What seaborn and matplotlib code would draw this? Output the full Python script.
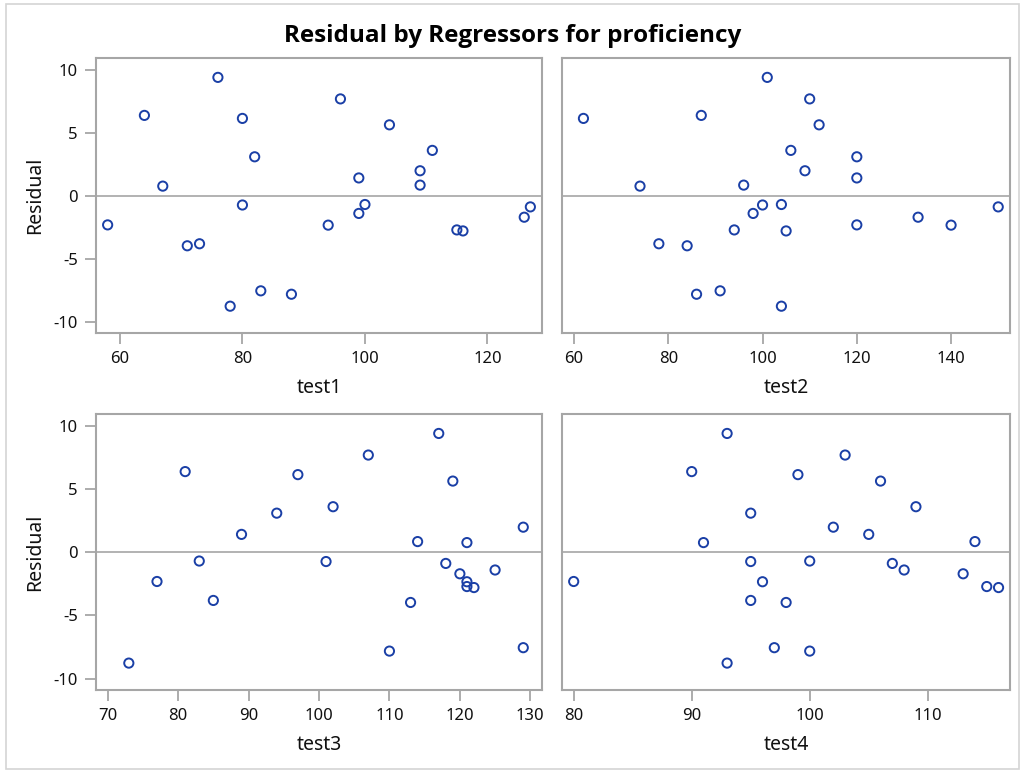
import matplotlib
matplotlib.use("Agg")
import matplotlib.pyplot as plt
from matplotlib.patches import Rectangle
import numpy as np
import pandas as pd
import seaborn as sns

# Regressor values and residuals for the 25 applicants
test1 = [58, 64, 67, 71, 73, 76, 78, 80, 80, 82, 83, 88, 94, 96, 99, 99, 100,
         104, 109, 109, 111, 115, 116, 126, 127]
test2 = [120, 87, 74, 84, 78, 101, 104, 62, 100, 120, 91, 86, 140, 110, 120, 98,
         104, 112, 109, 96, 106, 94, 105, 133, 150]
test3 = [77, 81, 121, 113, 85, 117, 73, 97, 101, 94, 129, 110, 121, 107, 89, 125,
         83, 119, 129, 114, 102, 121, 122, 120, 118]
test4 = [80, 90, 91, 98, 95, 93, 93, 99, 95, 95, 97, 100, 96, 103, 105, 108, 100,
         106, 102, 114, 109, 115, 116, 113, 107]
residual = [-2.31, 6.39, 0.77, -3.97, -3.81, 9.41, -8.77, 6.15, -0.73, 3.10,
            -7.55, -7.82, -2.33, 7.70, 1.42, -1.40, -0.69, 5.64, 1.99, 0.85,
            3.61, -2.71, -2.79, -1.70, -0.88]

regressors = ["test1", "test2", "test3", "test4"]
x_ticks = {
    "test1": [60, 80, 100, 120],
    "test2": [60, 80, 100, 120, 140],
    "test3": [70, 80, 90, 100, 110, 120, 130],
    "test4": [80, 90, 100, 110],
}
y_ticks = [-10, -5, 0, 5, 10]

df = pd.DataFrame({"test1": test1, "test2": test2, "test3": test3,
                   "test4": test4, "Residual": residual})

sns.set_theme(style="white")
plt.rcParams["font.family"] = ["Noto Sans", "DejaVu Sans"]
plt.rcParams["axes.unicode_minus"] = False

W, H = 1025, 771
fig = plt.figure(figsize=(W / 100, H / 100), dpi=100)

# panel boxes in pixels: (left, top, right, bottom)
boxes = {
    "test1": (96, 58, 542, 333),
    "test2": (562, 58, 1010, 333),
    "test3": (96, 414, 542, 690),
    "test4": (562, 414, 1010, 690),
}
xlims = {
    "test1": (56.1, 128.9),
    "test2": (57.45, 152.5),
    "test3": (68.34, 131.66),
    "test4": (79.01, 116.97),
}

grid_col = "#a6a6a6"
marker_col = "#1a3fa6"
text_col = "#111111"

for i, reg in enumerate(regressors):
    l, t, r, b = boxes[reg]
    ax = fig.add_axes([l / W, 1 - b / H, (r - l) / W, (b - t) / H])
    ax.axhline(0, color=grid_col, lw=1.2, zorder=1)
    sns.scatterplot(data=df, x=reg, y="Residual", ax=ax, marker="o",
                    s=44, facecolor="none", edgecolor=marker_col,
                    linewidth=1.4, zorder=3)
    ax.set_xlim(*xlims[reg])
    ax.set_ylim(-10.9, 10.95)
    ax.set_xticks(x_ticks[reg])
    ax.set_xlabel(reg, fontsize=14, color=text_col, labelpad=8)
    for sp in ax.spines.values():
        sp.set_color(grid_col)
        sp.set_linewidth(1.5)
    ax.tick_params(axis="x", direction="out", length=8, width=1.3,
                   color=grid_col, labelsize=12, labelcolor=text_col, pad=5,
                   bottom=True)
    if i % 2 == 0:
        ax.set_yticks(y_ticks)
        ax.set_ylabel("Residual", fontsize=14, color=text_col, labelpad=6)
        ax.tick_params(axis="y", direction="out", length=8, width=1.3,
                       color=grid_col, labelsize=12, labelcolor=text_col,
                       pad=5, left=True)
    else:
        ax.set_yticks(y_ticks)
        ax.set_yticklabels([])
        ax.set_ylabel("")
        ax.tick_params(axis="y", left=False, length=0)

fig.text(0.5, 1 - 36 / H, "Residual by Regressors for proficiency",
         ha="center", va="center", fontsize=17.5, fontweight="bold",
         family=["Open Sans", "DejaVu Sans"], color="black")

# outer frame of the graph
fig.patches.append(Rectangle((6 / W, 1 - 769 / H), (1019 - 6) / W, (769 - 4) / H,
                             transform=fig.transFigure, fill=False,
                             edgecolor="#d4d4d4", linewidth=1.2))

fig.savefig("out.png", dpi=100, facecolor="white")
